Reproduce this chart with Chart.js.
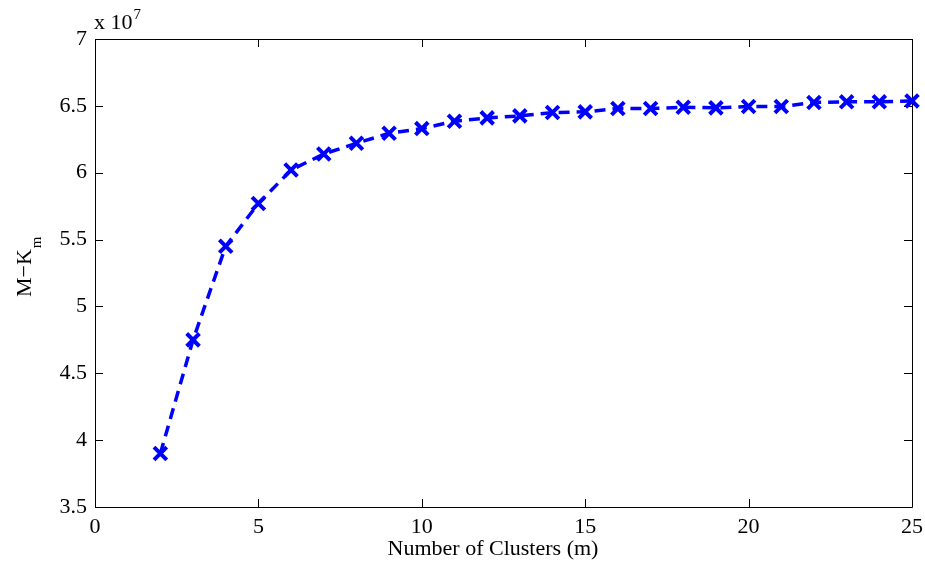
<!DOCTYPE html>
<html>
<head>
<meta charset="utf-8">
<script src="https://cdn.jsdelivr.net/npm/chart.js@4/dist/chart.umd.min.js"></script>
<style>
  html, body { margin: 0; padding: 0; background: #fff; }
  #wrap { width: 925px; height: 565px; }
</style>
</head>
<body>
<div id="wrap"><canvas id="kGraph" width="925" height="565"></canvas></div>
<script>
// number of clusters m and the value of M-K_m (in units of 1e7)
const clusters = [2, 3, 4, 5, 6, 7, 8, 9, 10, 11, 12, 13, 14, 15, 16, 17, 18, 19, 20, 21, 22, 23, 24, 25];
const mkValues = [3.90, 4.75, 5.45, 5.77, 6.02, 6.14, 6.22, 6.295, 6.33, 6.385, 6.41, 6.425, 6.45, 6.455, 6.48, 6.48, 6.49, 6.485, 6.495, 6.495, 6.525, 6.53, 6.53, 6.537];
const xTicks = [0, 5, 10, 15, 20, 25];
const yTicks = [3.5, 4, 4.5, 5, 5.5, 6, 6.5, 7];
const yScaleExp = 7;

const FONT = '"Liberation Serif", "Times New Roman", serif';

// MATLAB style box with inward ticks, drawn under the line
const axesBox = {
    id: 'axesBox',
    beforeDatasetsDraw(chart) {
        const { ctx, chartArea: a, scales } = chart;
        const tl = 8;
        ctx.save();
        ctx.strokeStyle = '#000';
        ctx.lineWidth = 1;
        ctx.beginPath();
        ctx.rect(Math.round(a.left) + 0.5, Math.round(a.top) + 0.5,
                 Math.round(a.right - a.left), Math.round(a.bottom - a.top));
        xTicks.forEach(v => {
            const x = Math.round(scales.x.getPixelForValue(v)) + 0.5;
            ctx.moveTo(x, a.bottom); ctx.lineTo(x, a.bottom - tl);
            ctx.moveTo(x, a.top); ctx.lineTo(x, a.top + tl);
        });
        yTicks.forEach(v => {
            const y = Math.round(scales.y.getPixelForValue(v * 10 ** yScaleExp)) + 0.5;
            ctx.moveTo(a.left, y); ctx.lineTo(a.left + tl, y);
            ctx.moveTo(a.right, y); ctx.lineTo(a.right - tl, y);
        });
        ctx.stroke();
        ctx.restore();
    },
    afterDraw(chart) {
        const { ctx, chartArea: a } = chart;
        ctx.save();
        ctx.fillStyle = '#000';
        ctx.textBaseline = 'alphabetic';

        // exponent label
        ctx.font = '22px ' + FONT;
        ctx.textAlign = 'left';
        ctx.fillText('x 10', a.left - 1, 29);
        const w = ctx.measureText('x 10').width;
        ctx.font = '15px ' + FONT;
        ctx.fillText(String(yScaleExp), a.left - 1 + w + 1, 19);

        // x axis title
        ctx.font = '22px ' + FONT;
        ctx.textAlign = 'center';
        ctx.fillText('Number of Clusters (m)', 493, 555);

        // y axis title: M−K with subscript m
        ctx.translate(31, 297);
        ctx.rotate(-Math.PI / 2);
        ctx.textAlign = 'left';
        ctx.font = '22px ' + FONT;
        ctx.fillText('M\u2212K', 0, 0);
        const mw = ctx.measureText('M\u2212K').width;
        ctx.font = '15px ' + FONT;
        ctx.fillText('m', mw + 1, 10);
        ctx.restore();
    }
};

const ctx = document.getElementById('kGraph').getContext('2d');
new Chart(ctx, {
    type: 'line',
    data: {
        datasets: [{
            data: clusters.map((m, i) => ({ x: m, y: mkValues[i] * 10 ** yScaleExp })),
            borderColor: '#0000ff',
            backgroundColor: '#0000ff',
            borderWidth: 3.5,
            borderDash: [11, 7],
            tension: 0,
            fill: false,
            pointStyle: 'crossRot',
            pointRadius: 9,
            pointBorderWidth: 4,
            pointHoverRadius: 9,
            clip: false
        }]
    },
    options: {
        responsive: false,
        animation: false,
        events: [],
        layout: { padding: { top: 39, right: 13, left: 0, bottom: 0 } },
        plugins: { legend: { display: false }, tooltip: { enabled: false } },
        scales: {
            x: {
                type: 'linear',
                min: 0, max: 25,
                grid: { display: false, drawTicks: false },
                border: { display: false },
                afterBuildTicks: s => { s.ticks = xTicks.map(v => ({ value: v })); },
                afterFit: s => { s.height = 58; s.paddingLeft = 0; s.paddingRight = 0; },
                ticks: { color: '#000', font: { family: FONT, size: 22 }, padding: 7, maxRotation: 0, autoSkip: false }
            },
            y: {
                min: 3.5 * 10 ** yScaleExp, max: 7 * 10 ** yScaleExp,
                grid: { display: false, drawTicks: false },
                border: { display: false },
                afterBuildTicks: s => { s.ticks = yTicks.map(v => ({ value: v * 10 ** yScaleExp })); },
                afterFit: s => { s.width = 95; s.paddingTop = 0; s.paddingBottom = 0; },
                ticks: {
                    color: '#000', font: { family: FONT, size: 22 }, padding: 8, autoSkip: false,
                    callback: v => String(Math.round(v / 10 ** (yScaleExp - 1)) / 10)
                }
            }
        }
    },
    plugins: [axesBox]
});
</script>
</body>
</html>
